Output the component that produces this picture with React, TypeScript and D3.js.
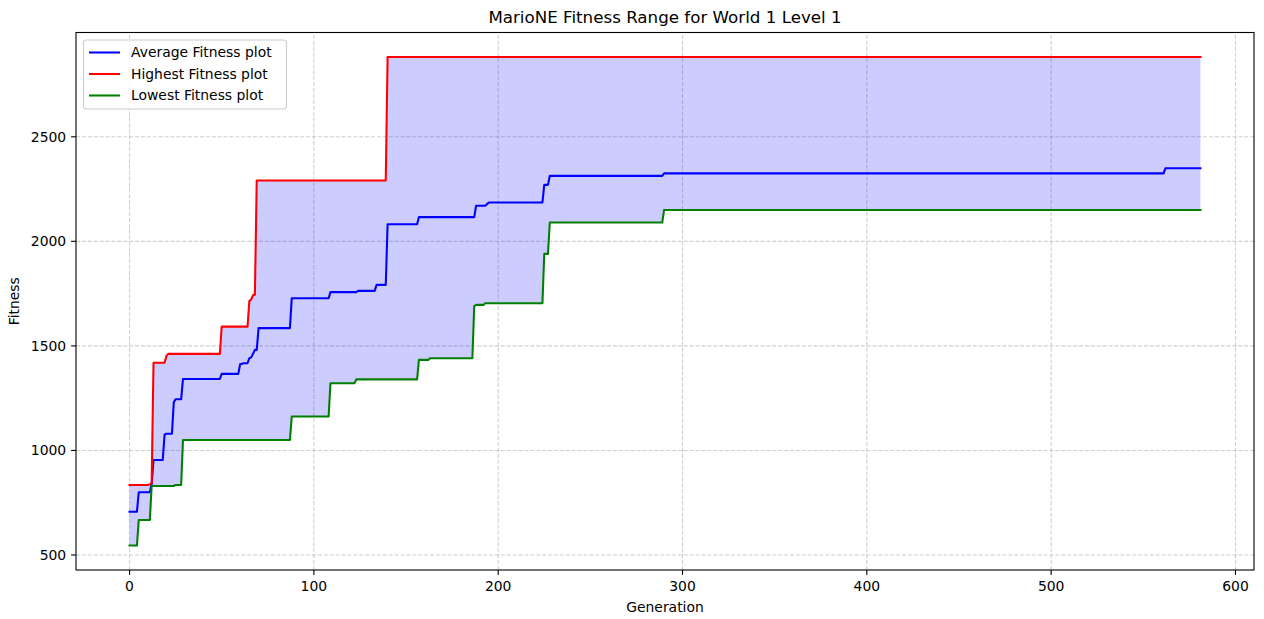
import React from 'react';
import * as d3 from 'd3';

// [generation, fitness] change points
const averageFitness: [number, number][] = [
  [0, 707], [4, 707], [5, 800], [11, 800], [12, 840], [13, 954], [18, 954], [19, 1075], [20, 1080],
  [23, 1080], [24, 1230], [25, 1245], [28, 1245], [29, 1342], [49, 1342], [50, 1366], [59, 1366],
  [60, 1412], [62, 1417], [64, 1417], [65, 1441], [66, 1445], [67, 1462], [68, 1481], [69, 1481],
  [70, 1585], [87, 1585], [88, 1728], [108, 1728], [109, 1757], [123, 1757], [124, 1763], [133, 1763],
  [134, 1792], [139, 1792], [140, 2082], [156, 2082], [157, 2116], [187, 2116], [188, 2170], [193, 2170],
  [194, 2179], [195, 2186], [224, 2186], [225, 2270], [227, 2270], [228, 2313], [289, 2313], [290, 2325],
  [561, 2325], [562, 2350], [581, 2350]
];

const highestFitness: [number, number][] = [
  [0, 835], [10, 835], [11, 838], [12, 845], [13, 1419], [19, 1419], [20, 1452], [21, 1462], [49, 1462],
  [50, 1592], [64, 1592], [65, 1715], [66, 1722], [67, 1742], [68, 1745], [69, 2291], [139, 2291],
  [140, 2882], [581, 2882]
];

const lowestFitness: [number, number][] = [
  [0, 545], [4, 545], [5, 667], [11, 667], [12, 830], [24, 830], [25, 835], [28, 835], [29, 1050],
  [87, 1050], [88, 1162], [108, 1162], [109, 1321], [122, 1321], [123, 1340], [156, 1340], [157, 1433],
  [162, 1433], [163, 1441], [186, 1441], [187, 1690], [188, 1696], [192, 1696], [193, 1704], [224, 1704],
  [225, 1940], [227, 1940], [228, 2090], [289, 2090], [290, 2150], [581, 2150]
];

const xTicks = [0, 100, 200, 300, 400, 500, 600];
const yTicks = [500, 1000, 1500, 2000, 2500];

const series = [
  { name: 'Average Fitness plot', color: 'blue', data: averageFitness },
  { name: 'Highest Fitness plot', color: 'red', data: highestFitness },
  { name: 'Lowest Fitness plot', color: 'green', data: lowestFitness }
];

const W = 1264;
const H = 619;
const m = { left: 76, right: 10, top: 32.5, bottom: 49 };
const font = '"DejaVu Sans", sans-serif';

export default function App() {
  const all = [...averageFitness, ...highestFitness, ...lowestFitness];
  const xmin = d3.min(all, (d) => d[0])!;
  const xmax = d3.max(all, (d) => d[0])!;
  const ymin = d3.min(all, (d) => d[1])!;
  const ymax = d3.max(all, (d) => d[1])!;
  const xpad = (xmax - xmin) * 0.05;
  const ypad = (ymax - ymin) * 0.05;

  const x = d3.scaleLinear().domain([xmin - xpad, xmax + xpad]).range([m.left, W - m.right]);
  const y = d3.scaleLinear().domain([ymin - ypad, ymax + ypad]).range([H - m.bottom, m.top]);

  const line = d3.line<[number, number]>().x((d) => x(d[0])).y((d) => y(d[1]));
  const band = line([...highestFitness, ...lowestFitness.slice().reverse()]) + 'Z';

  const x0 = m.left;
  const x1 = W - m.right;
  const y0 = H - m.bottom;
  const y1 = m.top;

  return (
    <>
      <style>{`body{margin:0}`}</style>
      <svg width={W} height={H} style={{ display: 'block', fontFamily: font }}>
        <rect width={W} height={H} fill="#fff" />
        <text x={(x0 + x1) / 2} y={23} textAnchor="middle" fontSize={16.7} fill="#000">
          MarioNE Fitness Range for World 1 Level 1
        </text>

        {/* grid */}
        <g stroke="#b0b0b0" strokeOpacity={0.6} strokeWidth={1.1} strokeDasharray="4.1,1.8">
          {xTicks.map((t) => (
            <line key={'gx' + t} x1={x(t)} x2={x(t)} y1={y0} y2={y1} />
          ))}
          {yTicks.map((t) => (
            <line key={'gy' + t} x1={x0} x2={x1} y1={y(t)} y2={y(t)} />
          ))}
        </g>

        <path d={band} fill="blue" fillOpacity={0.2} stroke="none" />

        {series.map((s) => (
          <path key={s.name} d={line(s.data)!} fill="none" stroke={s.color} strokeWidth={2.08} strokeLinejoin="round" strokeLinecap="square" />
        ))}

        {/* axes */}
        <rect x={x0} y={y1} width={x1 - x0} height={y0 - y1} fill="none" stroke="#000" strokeWidth={1.1} />
        <g fontSize={13.9} fill="#000">
          {xTicks.map((t) => (
            <g key={'tx' + t}>
              <line x1={x(t)} x2={x(t)} y1={y0} y2={y0 + 4.9} stroke="#000" strokeWidth={1.1} />
              <text x={x(t)} y={y0 + 20.5} textAnchor="middle">{t}</text>
            </g>
          ))}
          {yTicks.map((t) => (
            <g key={'ty' + t}>
              <line x1={x0} x2={x0 - 4.9} y1={y(t)} y2={y(t)} stroke="#000" strokeWidth={1.1} />
              <text x={x0 - 9.8} y={y(t)} dy="0.35em" textAnchor="end">{t}</text>
            </g>
          ))}
          <text x={(x0 + x1) / 2} y={612} textAnchor="middle">Generation</text>
          <text transform={`translate(19,${(y0 + y1) / 2}) rotate(-90)`} textAnchor="middle">Fitness</text>
        </g>

        {/* legend */}
        <g>
          <rect x={83.5} y={40} width={203} height={69} rx={3} fill="#fff" fillOpacity={0.8} stroke="#cccccc" strokeWidth={1.1} />
          {series.map((s, i) => (
            <g key={'lg' + s.name} transform={`translate(0,${52.5 + i * 21.5})`}>
              <line x1={89} x2={120} y1={0} y2={0} stroke={s.color} strokeWidth={2.08} />
              <text x={131} y={0} dy="0.35em" fontSize={13.9} fill="#000">{s.name}</text>
            </g>
          ))}
        </g>
      </svg>
    </>
  );
}
